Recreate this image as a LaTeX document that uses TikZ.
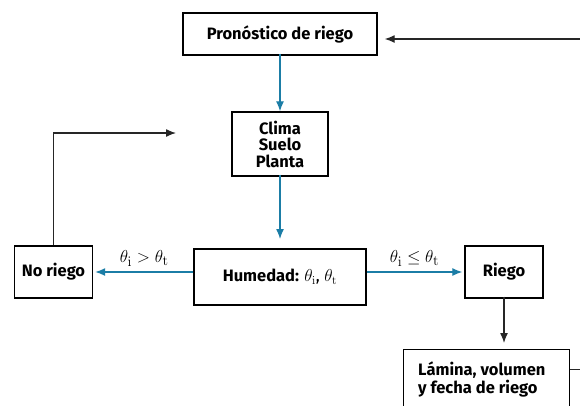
\documentclass[tikz,border=0pt]{standalone}
\usepackage[no-math]{fontspec}
\setmainfont{Fira Sans}
\usetikzlibrary{arrows.meta}
\definecolor{flowblue}{HTML}{1B7DA6}
\DeclareSymbolFont{lmroman}{OT1}{cmr}{m}{n}
\DeclareMathAlphabet{\mathlm}{OT1}{cmr}{m}{n}
\newcommand{\thm}[1]{\theta_{\mathlm{#1}}}
\begin{document}
\begin{tikzpicture}[x=1pt,y=-1pt,
  box/.style={draw=black,line width=1.4pt,fill=white,inner sep=0pt,align=center,font=\fontsize{16.5}{16.5}\selectfont\bfseries},
  bluearrow/.style={draw=flowblue,line width=1.3pt,-{Latex[length=10pt,width=8pt]}},
  blackarrow/.style={draw=black!85,line width=1.3pt,-{Latex[length=10pt,width=8pt]}},
  lbl/.style={font=\fontsize{19}{20}\selectfont}]
\useasboundingbox (0,0) rectangle (580,405);
\node[box,minimum width=194pt,minimum height=42pt] (pron) at (280,34) {Pronóstico de riego};
\node[box,minimum width=96pt,minimum height=64pt] (clima) at (280,144) {Clima\\Suelo\\Planta};
\node[box,minimum width=172pt,minimum height=56pt] (hum) at (280,277) {Humedad: \mdseries$\thm{i}$, $\thm{t}$};
\node[box,minimum width=78pt,minimum height=52pt] (nor) at (53.5,272) {No riego};
\node[box,minimum width=78pt,minimum height=52pt] (rieg) at (504,272) {Riego};
\node[box,minimum width=166pt,minimum height=64pt,anchor=north west] (lam) at (402.5,349) {};
\node[font=\fontsize{16.5}{18}\selectfont\bfseries,align=left,anchor=north west,inner sep=0pt] (lamtxt) at (418,362) {Lámina, volumen\\y fecha de riego};
\coordinate (rin) at (582,39);
\coordinate (rout) at (582,369.5);
\coordinate (fbtop) at (53.5,133);
\coordinate (fbend) at (176,133);
\coordinate (humtop) at (280,239);
\coordinate (lamtop) at (504,343);
\draw[blackarrow] (rin) -- ([xshift=7pt]pron.east |- rin);
\draw[black!85,line width=1.3pt] (lam.east |- rout) -- (rout);
\draw[bluearrow] ([yshift=2pt]pron.south) -- (clima.north);
\draw[bluearrow] ([yshift=2pt]clima.south) -- (humtop);
\draw[bluearrow] (hum.west |- nor) -- node[lbl,above=2pt,text=black] {$\thm{i} > \thm{t}$} ([xshift=2pt]nor.east);
\draw[bluearrow] (hum.east |- rieg) -- node[lbl,above=2pt,text=black] {$\thm{i} \leq \thm{t}$} ([xshift=-2pt]rieg.west);
\draw[blackarrow] ([yshift=2pt]rieg.south) -- (lamtop);
\draw[blackarrow] (nor.north) -- (fbtop) -- (fbend);
\end{tikzpicture}
\end{document}
